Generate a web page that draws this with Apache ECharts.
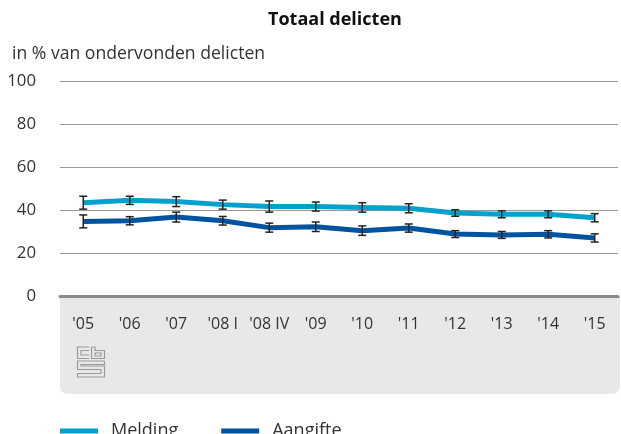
<!DOCTYPE html>
<html>
<head>
<meta charset="utf-8">
<script src="https://cdn.jsdelivr.net/npm/echarts@6/dist/echarts.min.js"></script>
<style>
  html, body { margin: 0; padding: 0; background: #fff; }
  #chart { width: 621px; height: 434px; }
</style>
</head>
<body>
<div id="chart"></div>
<script>
  // categorieën en waarden
  var categories = ["'05", "'06", "'07", "'08 I", "'08 IV", "'09", "'10", "'11", "'12", "'13", "'14", "'15"];
  var meldingValues = [43.4, 44.5, 43.9, 42.5, 41.6, 41.6, 41.2, 40.8, 38.6, 38.0, 38.0, 36.4];
  var meldingMargins = [3.0, 1.9, 2.3, 2.1, 2.6, 2.1, 2.2, 2.1, 1.5, 1.6, 1.6, 1.9];
  var aangifteValues = [34.7, 35.0, 36.7, 35.0, 31.8, 32.2, 30.4, 31.6, 28.8, 28.4, 28.7, 27.0];
  var aangifteMargins = [3.0, 1.9, 2.3, 2.0, 2.1, 2.2, 2.2, 1.9, 1.6, 1.6, 1.7, 1.9];
  var yTicks = [0, 20, 40, 60, 80, 100];

  var font = '"Open Sans", "Noto Sans", sans-serif';
  var lightBlue = '#00a1cd';
  var darkBlue = '#0053a0';

  function errorData(values, margins) {
    return values.map(function (v, i) { return [i, v - margins[i], v + margins[i]]; });
  }

  // foutmarge als verticale streep met dwarsstreepjes
  function renderError(params, api) {
    var lo = api.coord([api.value(0), api.value(1)]);
    var hi = api.coord([api.value(0), api.value(2)]);
    var w = 4;
    var st = { stroke: '#222', lineWidth: 1.5, fill: null };
    return {
      type: 'group',
      children: [
        { type: 'line', shape: { x1: lo[0], y1: lo[1], x2: hi[0], y2: hi[1] }, style: st },
        { type: 'line', shape: { x1: lo[0] - w, y1: lo[1], x2: lo[0] + w, y2: lo[1] }, style: st },
        { type: 'line', shape: { x1: hi[0] - w, y1: hi[1], x2: hi[0] + w, y2: hi[1] }, style: st }
      ]
    };
  }

  var chart = echarts.init(document.getElementById('chart'), null, { renderer: 'canvas' });

  var logoStyle = { stroke: '#9a9a9a', lineWidth: 1.2, fill: null };

  chart.setOption({
    animation: false,
    textStyle: { fontFamily: font },
    title: [
      {
        text: 'Totaal delicten',
        left: 263,
        top: 6,
        textStyle: { fontSize: 18, fontWeight: 'bold', color: '#111', fontFamily: font }
      },
      {
        text: 'in % van ondervonden delicten',
        left: 7,
        top: 40,
        textStyle: { fontSize: 17.6, fontWeight: 'normal', color: '#333', fontFamily: font }
      }
    ],
    graphic: [
      {
        type: 'rect',
        z: -1,
        silent: true,
        shape: { x: 60, y: 296, width: 560, height: 98, r: [0, 0, 8, 8] },
        style: { fill: '#e8e8e8' }
      },
      // CBS-logo
      { type: 'polyline', silent: true, shape: { points: [[89, 347], [77.5, 347], [77.5, 358.5], [89, 358.5]] }, style: logoStyle },
      { type: 'polyline', silent: true, shape: { points: [[89, 350.5], [81, 350.5], [81, 355], [89, 355]] }, style: logoStyle },
      { type: 'polyline', silent: true, shape: { points: [[91.5, 347], [95, 347], [95, 350.5], [104.5, 350.5], [104.5, 358.5], [91.5, 358.5], [91.5, 347]] }, style: logoStyle },
      { type: 'rect', silent: true, shape: { x: 95, y: 353, width: 6, height: 3 }, style: logoStyle },
      { type: 'polyline', silent: true, shape: { points: [[104.5, 361], [77.5, 361], [77.5, 369.5], [101, 369.5], [101, 373.5], [77.5, 373.5], [77.5, 377], [104.5, 377], [104.5, 366], [81, 366], [81, 364.5], [104.5, 364.5], [104.5, 361]] }, style: logoStyle }
    ],
    legend: {
      left: 55,
      top: 417,
      itemWidth: 38,
      itemHeight: 5,
      itemGap: 43,
      icon: 'rect',
      data: ['Melding', 'Aangifte'],
      textStyle: { fontSize: 18, color: '#333', fontFamily: font, padding: [0, 0, 10, 8] }
    },
    grid: { left: 60, right: 3, top: 81, bottom: 138, containLabel: false },
    xAxis: {
      type: 'category',
      data: categories,
      boundaryGap: true,
      axisLine: { lineStyle: { color: '#8a8a8a', width: 3 } },
      axisTick: { alignWithLabel: true, length: 8, inside: false, lineStyle: { color: '#8a8a8a', width: 1 } },
      axisLabel: { color: '#333', fontSize: 16, margin: 20, fontFamily: font, interval: 0 },
      splitLine: { show: false }
    },
    yAxis: {
      type: 'value',
      min: yTicks[0],
      max: yTicks[yTicks.length - 1],
      interval: 20,
      axisLine: { show: false },
      axisTick: { show: false },
      axisLabel: { color: '#333', fontSize: 16.8, margin: 24, fontFamily: font },
      splitLine: { lineStyle: { color: '#999', width: 1 } }
    },
    series: [
      {
        name: 'Melding',
        type: 'line',
        data: meldingValues,
        symbol: 'none',
        color: lightBlue,
        lineStyle: { width: 5, color: lightBlue },
        z: 3
      },
      {
        name: 'Aangifte',
        type: 'line',
        data: aangifteValues,
        symbol: 'none',
        color: darkBlue,
        lineStyle: { width: 5, color: darkBlue },
        z: 3
      },
      {
        name: 'foutmarge melding',
        type: 'custom',
        renderItem: renderError,
        data: errorData(meldingValues, meldingMargins),
        encode: { x: 0, y: [1, 2] },
        z: 4
      },
      {
        name: 'foutmarge aangifte',
        type: 'custom',
        renderItem: renderError,
        data: errorData(aangifteValues, aangifteMargins),
        encode: { x: 0, y: [1, 2] },
        z: 4
      }
    ]
  });
</script>
</body>
</html>
